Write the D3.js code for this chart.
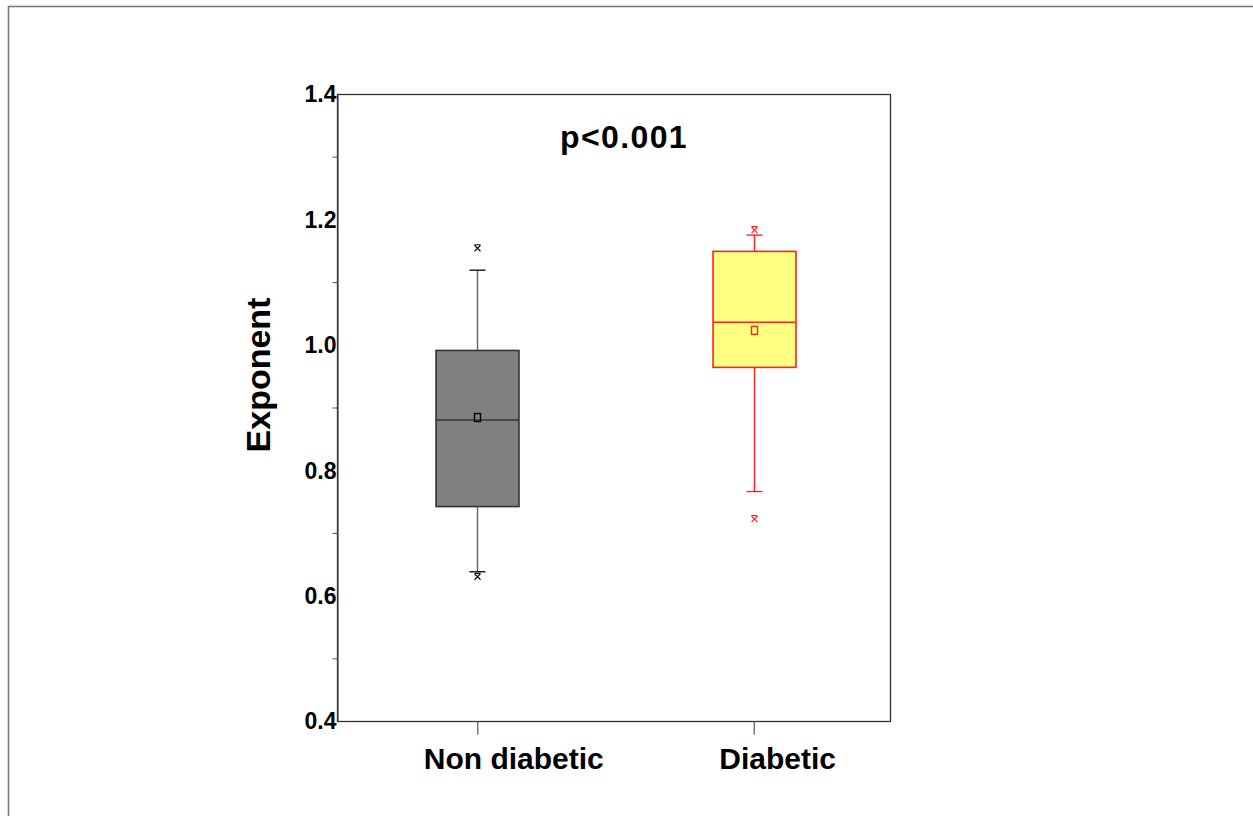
<!DOCTYPE html>
<html>
<head>
<meta charset="utf-8">
<script src="https://cdn.jsdelivr.net/npm/d3@7"></script>
<style>
  html, body { margin: 0; padding: 0; background: #fff; }
  svg { display: block; }
  text { font-family: "Liberation Sans", Arial, sans-serif; font-weight: bold; fill: #000; }
</style>
</head>
<body>
<svg id="chart" width="1253" height="816"></svg>
<script>
// Box-plot summary of the exponent for each group
const groups = ["Non diabetic", "Diabetic"];
const q1 = [0.742, 0.964];
const median = [0.880, 1.036];
const q3 = [0.991, 1.149];
const whiskerLow = [0.638, 0.766];
const whiskerHigh = [1.119, 1.175];
const means = [0.884, 1.023];
const outliers = [[0.630, 1.154], [0.722, 1.183]];
const fills = ["#808080", "#ffff80"];
const strokes = ["#333333", "#ff2020"];
const whiskerStrokes = ["#666666", "#ff2020"];
const capStrokes = ["#111111", "#ff2020"];
const meanStrokes = ["#000000", "#ff2020"];

const majorTicks = [0.4, 0.6, 0.8, 1.0, 1.2, 1.4];
const majorLabels = ["0.4", "0.6", "0.8", "1.0", "1.2", "1.4"];
const minorTicks = [0.5, 0.7, 0.9, 1.1, 1.3];

const svg = d3.select("#chart");

// outer page frame (only top and left edges fall inside the view)
svg.append("rect")
  .attr("x", 8.5).attr("y", 6.5)
  .attr("width", 1300).attr("height", 900)
  .attr("fill", "none").attr("stroke", "#7a7a7a").attr("stroke-width", 1.6);

const plot = { left: 337, right: 890, top: 94, bottom: 721 };

const y = d3.scaleLinear().domain([0.4, 1.4]).range([plot.bottom, plot.top]);
const x = d3.scalePoint().domain(groups).range([plot.left + 2, plot.right + 2]).padding(0.5);
const boxW = x.step() * 0.3;
const capW = 16;

// plot frame
svg.append("rect")
  .attr("x", plot.left + 0.5).attr("y", plot.top + 0.5)
  .attr("width", plot.right - plot.left).attr("height", plot.bottom - plot.top)
  .attr("fill", "none").attr("stroke", "#333").attr("stroke-width", 1.3);

// y axis: labelled major ticks, short minor ticks
const yAxis = svg.append("g")
  .attr("transform", `translate(${plot.left + 0.5},0)`)
  .call(d3.axisLeft(y).tickValues(majorTicks)
    .tickFormat((d, i) => majorLabels[i]).tickSize(0).tickPadding(1));
yAxis.select(".domain").attr("stroke", "#333");
yAxis.selectAll("text")
  .style("font-size", "23px").style("font-family", "Liberation Sans, Arial, sans-serif")
  .style("font-weight", "bold").attr("fill", "#000").attr("dy", "0.34em");

const yMinor = svg.append("g")
  .attr("transform", `translate(${plot.left + 0.5},0)`)
  .call(d3.axisLeft(y).tickValues(minorTicks).tickFormat("").tickSize(5));
yMinor.select(".domain").remove();
yMinor.selectAll("line").attr("stroke", "#555");

// x axis: category ticks below the frame
const xAxis = svg.append("g")
  .attr("transform", `translate(0,${plot.bottom + 0.5})`)
  .call(d3.axisBottom(x).tickSize(13).tickPadding(12));
xAxis.select(".domain").remove();
xAxis.selectAll("line").attr("stroke", "#555").attr("stroke-width", 1.2);
xAxis.selectAll("text")
  .style("font-size", "30px").style("font-family", "Liberation Sans, Arial, sans-serif")
  .style("font-weight", "bold").attr("fill", "#000")
  .attr("dy", "0.74em")
  .attr("text-anchor", "start")
  .each(function () {
    const w = this.getComputedTextLength();
    d3.select(this).attr("x", -0.3 * w);
  });

// y-axis title
svg.append("text")
  .attr("transform", `translate(258,375) rotate(-90)`)
  .attr("text-anchor", "middle")
  .attr("dy", "0.35em")
  .style("font-size", "34px")
  .text("Exponent");

// significance note
svg.append("text")
  .attr("x", 624).attr("y", 148)
  .attr("text-anchor", "middle")
  .style("font-size", "32px")
  .style("letter-spacing", "1.4px")
  .text("p<0.001");

// boxes
const g = svg.append("g");
groups.forEach((name, i) => {
  const cx = Math.round(x(name)) + 0.5;
  const bg = g.append("g");

  // whiskers
  bg.append("line")
    .attr("x1", cx).attr("x2", cx)
    .attr("y1", y(q3[i])).attr("y2", y(whiskerHigh[i]))
    .attr("stroke", whiskerStrokes[i]).attr("stroke-width", 1.4);
  bg.append("line")
    .attr("x1", cx).attr("x2", cx)
    .attr("y1", y(q1[i])).attr("y2", y(whiskerLow[i]))
    .attr("stroke", whiskerStrokes[i]).attr("stroke-width", 1.4);

  // caps
  [whiskerHigh[i], whiskerLow[i]].forEach(v => {
    bg.append("line")
      .attr("x1", cx - capW / 2).attr("x2", cx + capW / 2)
      .attr("y1", y(v)).attr("y2", y(v))
      .attr("stroke", capStrokes[i]).attr("stroke-width", 1.4);
  });

  // box
  bg.append("rect")
    .attr("x", cx - boxW / 2).attr("y", y(q3[i]))
    .attr("width", boxW).attr("height", y(q1[i]) - y(q3[i]))
    .attr("fill", fills[i]).attr("stroke", strokes[i]).attr("stroke-width", 1.6);

  // median
  bg.append("line")
    .attr("x1", cx - boxW / 2).attr("x2", cx + boxW / 2)
    .attr("y1", y(median[i])).attr("y2", y(median[i]))
    .attr("stroke", strokes[i]).attr("stroke-width", 1.6);

  // mean marker
  bg.append("rect")
    .attr("x", cx - 3).attr("y", y(means[i]) - 4)
    .attr("width", 6).attr("height", 8)
    .attr("fill", "none").attr("stroke", meanStrokes[i])
    .attr("stroke-width", 1.4);

  // outliers drawn as small crosses with a bar
  outliers[i].forEach(v => {
    const oy = y(v);
    bg.append("path")
      .attr("d", `M${cx - 3},${oy - 3}L${cx + 3},${oy + 3}M${cx + 3},${oy - 3}L${cx - 3},${oy + 3}M${cx - 3},${oy - 3.5}L${cx + 3},${oy - 3.5}`)
      .attr("fill", "none").attr("stroke", capStrokes[i]).attr("stroke-width", 1.2);
  });
});
</script>
</body>
</html>
